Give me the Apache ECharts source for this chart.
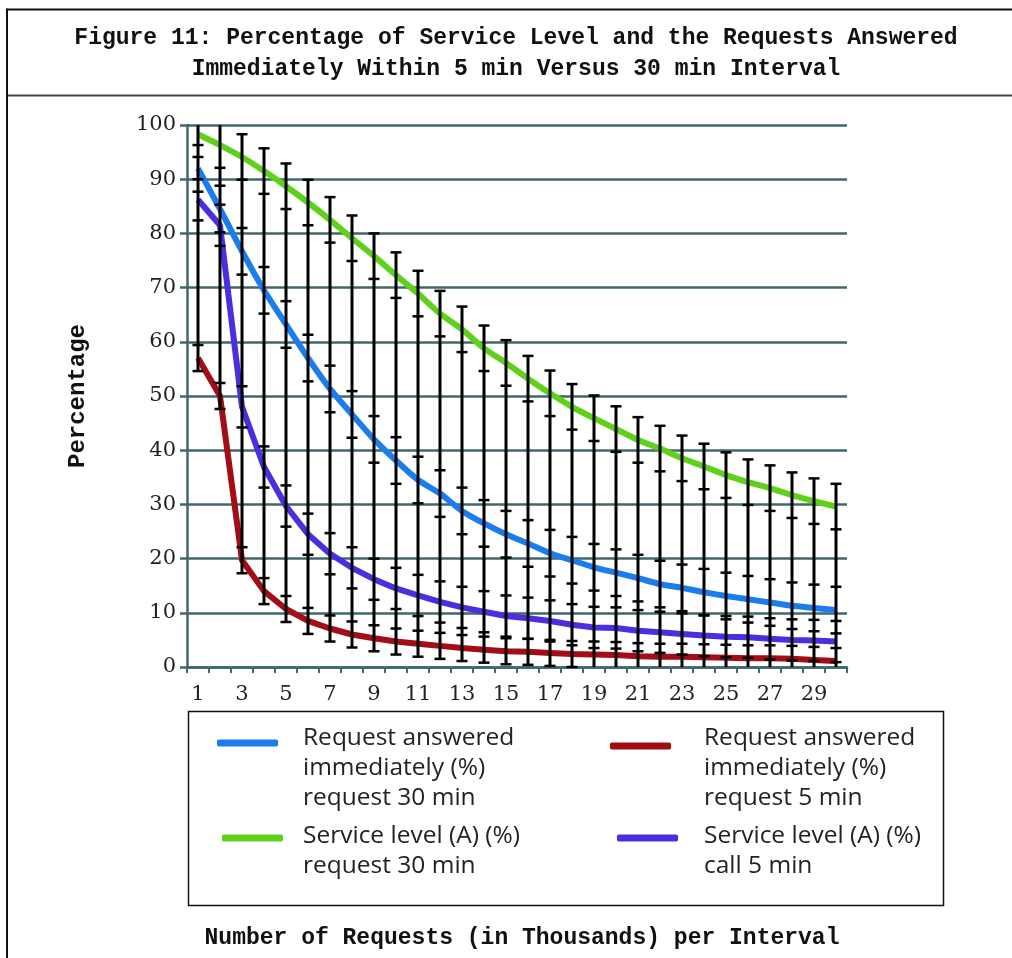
<!DOCTYPE html>
<html>
<head>
<meta charset="utf-8">
<script src="https://cdn.jsdelivr.net/npm/echarts@6/dist/echarts.min.js"></script>
<style>
html, body { margin: 0; padding: 0; background: #ffffff; }
#chart { width: 1012px; height: 958px; }
</style>
</head>
<body>
<div id="chart"></div>
<script>
// ---------- data ----------
const categories = ['1','2','3','4','5','6','7','8','9','10','11','12','13','14','15',
  '16','17','18','19','20','21','22','23','24','25','26','27','28','29','30'];

const answered30 = [92.0, 84.5, 76.7, 69.5, 63.2, 57.0, 51.3, 46.6, 42.0, 38.1, 34.5, 32.0, 28.8, 26.5, 24.5,
  22.8, 21.0, 19.7, 18.4, 17.4, 16.4, 15.3, 14.6, 13.8, 13.1, 12.5, 11.9, 11.3, 10.9, 10.5];
const serviceLevel30 = [98.3, 96.3, 94.1, 91.5, 88.7, 85.7, 82.5, 79.1, 75.8, 72.3, 68.9, 65.2, 62.3, 58.8, 56.1,
  53.2, 50.5, 48.0, 45.9, 43.9, 41.9, 40.3, 38.5, 37.0, 35.4, 34.1, 33.0, 31.7, 30.6, 29.6];
const answered5 = [57.0, 50.0, 19.7, 14.0, 10.7, 8.5, 7.1, 6.0, 5.3, 4.7, 4.3, 3.9, 3.5, 3.2, 2.9,
  2.8, 2.6, 2.4, 2.3, 2.2, 2.0, 1.9, 1.9, 1.8, 1.7, 1.6, 1.6, 1.5, 1.3, 1.1];
const serviceLevel5 = [86.2, 81.5, 48.0, 36.9, 29.7, 24.5, 20.9, 18.3, 16.2, 14.5, 13.2, 12.0, 11.0, 10.2, 9.4,
  9.0, 8.5, 7.8, 7.3, 7.2, 6.7, 6.4, 6.1, 5.8, 5.6, 5.5, 5.2, 5.0, 4.9, 4.7];

// fixed error-bar amounts (±) read from the caps
const errAnswered30 = 4.3;
const errServiceLevel30 = 4.2;
const errAnswered5 = 2.4;
const errServiceLevel5 = 3.8;

const yTickMin = 0, yTickMax = 100, yTickStep = 10;

const nameA30 = 'Request answered immediately (%) request 30 min';
const nameA5 = 'Request answered immediately (%) request 5 min';
const nameS30 = 'Service level (A) (%) request 30 min';
const nameS5 = 'Service level (A) (%) call 5 min';
const legendLines = {};
legendLines[nameA30] = ['Request answered', 'immediately (%)', 'request 30 min'];
legendLines[nameA5] = ['Request answered', 'immediately (%)', 'request 5 min'];
legendLines[nameS30] = ['Service level (A) (%)', 'request 30 min'];
legendLines[nameS5] = ['Service level (A) (%)', 'call 5 min'];

// ---------- build ----------
const errorRows = categories.map((c, i) => [
  i,
  serviceLevel30[i] - errServiceLevel30, serviceLevel30[i] + errServiceLevel30,
  answered30[i] - errAnswered30, answered30[i] + errAnswered30,
  serviceLevel5[i] - errServiceLevel5, serviceLevel5[i] + errServiceLevel5,
  answered5[i] - errAnswered5, answered5[i] + errAnswered5
]);

const C_BLUE = '#1b7ced', C_GREEN = '#5fd11b', C_RED = '#a20d16', C_VIOLET = '#4a2ee0';
const GRID_COL = '#40676a';
const MONO = "'Liberation Mono', 'DejaVu Sans Mono', monospace";
const SERIF = "'DejaVu Serif', 'Liberation Serif', serif";
const SANS = "'Open Sans', 'Noto Sans', sans-serif";
const LEG_FONT = 24.5, LEG_LH = 30;

function legendDef(name, left, top, padTop, padLeft) {
  return {
    data: [{ name: name }],
    orient: 'vertical',
    left: left, top: top,
    padding: 0,
    itemWidth: 61, itemHeight: 7,
    icon: 'roundRect',
    selectedMode: false,
    formatter: n => legendLines[n].map(s => '{t|' + s + '}').join('\n'),
    textStyle: {
      fontFamily: SANS, fontSize: LEG_FONT, color: '#222', lineHeight: LEG_LH,
      padding: [padTop, 0, 0, padLeft],
      rich: { t: { fontFamily: SANS, fontSize: LEG_FONT, color: '#222', lineHeight: LEG_LH } }
    }
  };
}

const chart = echarts.init(document.getElementById('chart'), null, { renderer: 'canvas' });
chart.setOption({
  backgroundColor: '#ffffff',
  animation: false,
  title: {
    text: 'Figure 11: Percentage of Service Level and the Requests Answered\nImmediately Within 5 min Versus 30 min Interval',
    left: 516, top: 23, padding: 0, textAlign: 'center',
    textStyle: { fontFamily: MONO, fontWeight: 'bold', fontSize: 23, lineHeight: 31, color: '#111' }
  },
  grid: { left: 187, right: 165, top: 125, bottom: 291, containLabel: false },
  xAxis: {
    type: 'category',
    data: categories,
    boundaryGap: true,
    name: 'Number of Requests (in Thousands) per Interval',
    nameLocation: 'middle',
    nameGap: 260,
    nameTextStyle: { fontFamily: MONO, fontWeight: 'bold', fontSize: 23, color: '#111', padding: [0, 0, 0, 10] },
    axisLine: { lineStyle: { color: GRID_COL, width: 2.5 } },
    axisTick: { show: true, interval: 0, length: 6, lineStyle: { color: GRID_COL, width: 2 } },
    axisLabel: { interval: 1, margin: 17, fontFamily: SERIF, fontSize: 21, color: '#222' },
    splitLine: { show: false }
  },
  yAxis: {
    type: 'value',
    min: yTickMin, max: yTickMax, interval: yTickStep,
    name: 'Percentage',
    nameLocation: 'middle',
    nameGap: 97,
    nameTextStyle: { fontFamily: MONO, fontWeight: 'bold', fontSize: 24, color: '#111' },
    axisLine: { show: true, lineStyle: { color: GRID_COL, width: 2.5 } },
    axisTick: { show: true, length: 7, lineStyle: { color: GRID_COL, width: 2.5 } },
    axisLabel: { margin: 11, fontFamily: SERIF, fontSize: 21, color: '#222' },
    splitLine: { show: true, lineStyle: { color: GRID_COL, width: 2.5 } }
  },
  legend: [
    legendDef(nameA30, 217, 672.5, 51, 20),
    legendDef(nameA5, 610, 678.5, 45, 28),
    legendDef(nameS30, 222, 795, 26, 15),
    legendDef(nameS5, 617, 795, 26, 21)
  ],
  graphic: [
    { type: 'line', shape: { x1: 7, y1: 9.5, x2: 1012, y2: 9.5 }, style: { stroke: '#111', lineWidth: 2 }, silent: true },
    { type: 'line', shape: { x1: 7, y1: 95.5, x2: 1012, y2: 95.5 }, style: { stroke: '#444', lineWidth: 2 }, silent: true },
    { type: 'line', shape: { x1: 7, y1: 8.5, x2: 7, y2: 958 }, style: { stroke: '#111', lineWidth: 2 }, silent: true },
    { type: 'rect', shape: { x: 188.5, y: 711.5, width: 755, height: 194 }, style: { fill: 'none', stroke: '#111', lineWidth: 1.5 }, silent: true, z: -1 }
  ],
  series: [
    { name: nameA30, type: 'line', data: answered30, color: C_BLUE, symbol: 'none', smooth: 0.2,
      lineStyle: { color: C_BLUE, width: 6 }, z: 2 },
    { name: nameA5, type: 'line', data: answered5, color: C_RED, symbol: 'none', smooth: false,
      lineStyle: { color: C_RED, width: 6, join: 'round' }, z: 2 },
    { name: nameS30, type: 'line', data: serviceLevel30, color: C_GREEN, symbol: 'none', smooth: 0.2,
      lineStyle: { color: C_GREEN, width: 6 }, z: 2 },
    { name: nameS5, type: 'line', data: serviceLevel5, color: C_VIOLET, symbol: 'none', smooth: false,
      lineStyle: { color: C_VIOLET, width: 6, join: 'round' }, z: 2 },
    {
      name: 'error bars', type: 'custom', data: errorRows, z: 5,
      encode: { x: 0, y: [1, 2, 3, 4, 5, 6, 7, 8] },
      renderItem: function (params, api) {
        const cs = params.coordSys;
        const top = cs.y, bottom = cs.y + cs.height;
        const i = api.value(0);
        const ys = [];
        for (let k = 1; k <= 8; k++) ys.push(api.coord([i, api.value(k)])[1]);
        const x = api.coord([i, 0])[0];
        const y1 = Math.max(top, Math.min.apply(null, ys));
        const y2 = Math.min(bottom, Math.max.apply(null, ys));
        const children = [{
          type: 'line', shape: { x1: x, y1: y1, x2: x, y2: y2 },
          style: { stroke: '#000', lineWidth: 3 }
        }];
        ys.forEach(function (y) {
          if (y >= top - 0.5 && y <= bottom + 0.5) {
            children.push({ type: 'line', shape: { x1: x - 5.5, y1: y, x2: x + 5.5, y2: y },
              style: { stroke: '#000', lineWidth: 2.5 } });
          }
        });
        return { type: 'group', children: children };
      }
    }
  ]
});
</script>
</body>
</html>
